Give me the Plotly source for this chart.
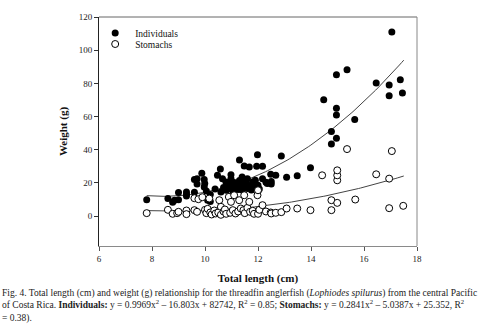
import numpy as np
import plotly.graph_objects as go

# ---- data ----
ind_x = [7.8, 8.6, 8.78, 8.85, 9.0, 9.0, 9.3, 9.3, 9.3, 9.6, 9.6, 9.7, 9.7, 9.88, 9.97,
         9.99, 9.97, 10.05, 10.1, 10.2, 10.2, 10.38, 10.47, 10.58, 10.66, 10.6, 10.7, 10.79,
         10.8, 10.85, 10.9, 10.98, 10.98, 11.0, 11.0, 11.05, 11.1, 11.15, 11.2, 11.25, 11.3,
         11.3, 11.35, 11.4, 11.4, 11.45, 11.48, 11.5, 11.55, 11.6, 11.6, 11.67, 11.7, 11.75,
         11.8, 11.85, 11.9, 11.95, 11.98, 12.0, 12.05, 12.17, 12.17, 12.3, 12.35, 12.48, 12.5,
         12.5, 12.67, 12.88, 13.08, 13.48, 13.98, 14.48, 14.77, 14.77, 14.96, 14.96, 14.96,
         14.96, 15.36, 15.65, 16.46, 16.95, 16.95, 17.05, 17.37, 17.45]
ind_y = [9.8, 10.6, 8.4, 9.6, 9.8, 14.2, 14.6, 12.2, 13.2, 14.4, 22.0, 19.4, 22.6, 25.8, 22.0,
         19.6, 17.6, 15.2, 9.6, 8.8, 13.0, 16.4, 24.6, 28.4, 22.6, 14.6, 17.2, 20.6,
         15.6, 17.6, 19.4, 25.0, 22.6, 16.4, 18.6, 15.2, 20.2, 17.4, 18.8, 16.0, 33.8,
         21.4, 18.2, 23.6, 15.8, 19.6, 30.2, 17.2, 20.4, 22.6, 16.6, 29.6, 18.4, 15.8,
         20.6, 17.4, 21.6, 30.0, 37.0, 18.6, 16.4, 30.0, 22.6, 20.4, 19.6, 25.2, 19.4,
         20.8, 24.6, 36.2, 23.4, 24.4, 29.2, 70.2, 51.0, 43.4, 47.0, 61.0, 65.0,
         85.2, 88.2, 58.2, 80.2, 79.0, 72.6, 111.0, 82.2, 74.2]

sto_x = [7.8, 8.6, 8.78, 8.95, 9.0, 9.3, 9.3, 9.6, 9.6, 9.7, 9.75, 9.9, 10.0, 10.05, 10.1,
         10.16, 10.2, 10.25, 10.35, 10.4, 10.5, 10.54, 10.6, 10.6, 10.7, 10.75, 10.8, 10.9,
         10.95, 10.98, 11.05, 11.1, 11.15, 11.25, 11.29, 11.35, 11.45, 11.48, 11.5, 11.6,
         11.67, 11.7, 11.8, 11.85, 11.98, 11.98, 12.0, 12.0, 12.05, 12.17, 12.3, 12.48, 12.5,
         12.67, 12.88, 13.08, 13.48, 13.98, 14.42, 14.77, 14.77, 14.99, 14.99, 14.99, 14.99,
         15.36, 15.67, 16.46, 16.95, 16.95, 17.05, 17.48]
sto_y = [1.8, 3.8, 1.4, 1.8, 2.6, 3.4, 1.2, 3.6, 10.8, 2.6, 10.2, 11.4, 3.8, 1.8, 4.4,
         10.6, 2.2, 1.0, 3.4, 1.6, 2.2, 9.6, 5.6, 0.8, 2.8, 4.0, 1.4, 11.6,
         2.0, 8.6, 3.6, 12.6, 1.6, 2.8, 9.6, 4.6, 3.6, 12.6, 1.8, 5.0,
         8.6, 2.6, 3.2, 1.4, 14.6, 12.6, 15.6, 1.4, 3.8, 6.6, 2.8, 2.2, 1.6,
         2.0, 2.4, 4.6, 4.6, 3.6, 24.6, 9.6, 3.6, 8.0, 21.6, 24.6, 27.6,
         40.4, 10.0, 25.2, 22.6, 4.8, 39.2, 6.2]

# quadratic fit coefficients given in the caption (a, b, c)
fit_ind = [0.9969, -16.803, 82.742]
fit_sto = [0.2841, -5.0387, 25.352]
fit_range = [7.8, 17.5]

x_ticks = [6, 8, 10, 12, 14, 16, 18]
y_ticks = [0, 20, 40, 60, 80, 100, 120]

SERIF = "Liberation Serif, Times New Roman, serif"

xf = np.linspace(fit_range[0], fit_range[1], 120)

fig = go.Figure()
fig.add_trace(go.Scatter(x=xf, y=np.polyval(fit_ind, xf), mode="lines",
                         line=dict(color="#444444", width=1), showlegend=False, hoverinfo="skip"))
fig.add_trace(go.Scatter(x=xf, y=np.polyval(fit_sto, xf), mode="lines",
                         line=dict(color="#444444", width=1), showlegend=False, hoverinfo="skip"))
fig.add_trace(go.Scatter(x=ind_x, y=ind_y, mode="markers", name="Individuals",
                         marker=dict(symbol="circle", size=7, color="black",
                                     line=dict(color="black", width=0)),
                         legend="legend"))
fig.add_trace(go.Scatter(x=sto_x, y=sto_y, mode="markers", name="Stomachs",
                         marker=dict(symbol="circle", size=7, color="white",
                                     line=dict(color="black", width=1)),
                         legend="legend2"))

L, R, T, B = 99, 67, 17, 84
W, H = 484, 330
ph = H - T - B

fig.update_layout(
    width=W, height=H,
    margin=dict(l=L, r=R, t=T, b=B),
    paper_bgcolor="white", plot_bgcolor="white",
    font=dict(family=SERIF, size=9, color="#111111"),
    xaxis=dict(range=[6, 18], tickvals=x_ticks, showgrid=False, zeroline=False,
               showline=True, linecolor="#8a8a8a", linewidth=1,
               ticks="outside", ticklen=4, tickcolor="#555555",
               tickfont=dict(family=SERIF, size=9, color="#222222"),
               title=dict(text="<b>Total length (cm)</b>", font=dict(family=SERIF, size=11, color="#111111"),
                          standoff=11)),
    yaxis=dict(range=[-18, 120], tickvals=y_ticks, showgrid=False, zeroline=False,
               showline=True, linecolor="#222222", linewidth=1,
               ticks="outside", ticklen=4, tickcolor="#333333",
               tickfont=dict(family=SERIF, size=9, color="#222222"),
               title=dict(text="<b>Weight (g)</b>", font=dict(family=SERIF, size=11, color="#111111"),
                          standoff=8)),
    legend=dict(x=-0.012, y=(H - B - 33) / ph, xanchor="left", yanchor="middle",
                bgcolor="rgba(0,0,0,0)", font=dict(family=SERIF, size=9.5, color="#111111"),
                itemwidth=30, tracegroupgap=0),
    legend2=dict(x=-0.012, y=(H - B - 44) / ph, xanchor="left", yanchor="middle",
                 bgcolor="rgba(0,0,0,0)", font=dict(family=SERIF, size=9.5, color="#111111"),
                 itemwidth=30, tracegroupgap=0),
    shapes=[
        dict(type="line", xref="paper", yref="paper", x0=0, x1=1, y0=1, y1=1,
             line=dict(color="#666666", width=1)),
        dict(type="line", xref="paper", yref="paper", x0=1, x1=1, y0=0, y1=1,
             line=dict(color="#888888", width=1)),
    ],
)

cap_lines = [
    "Fig. 4. Total length (cm) and weight (g) relationship for the threadfin anglerfish (<i>Lophiodes spilurus</i>) from the central Pacific",
    "of Costa Rica. <b>Individuals:</b> y = 0.9969x<sup>2</sup> – 16.803x + 82742, R<sup>2</sup> = 0.85; <b>Stomachs:</b> y = 0.2841x<sup>2</sup> – 5.0387x + 25.352, R<sup>2</sup>",
    "= 0.38).",
]
fig.add_annotation(text="<br>".join(cap_lines), xref="paper", yref="paper",
                   x=(0 - L) / (W - L - R), xanchor="left",
                   y=(H - B - 305.5) / ph, yanchor="middle",
                   showarrow=False, align="left",
                   font=dict(family=SERIF, size=9.5, color="#222222"))

fig.write_html("out.html", config={"displayModeBar": False},
               post_script="document.body.style.margin='0';document.body.style.overflow='hidden';")
